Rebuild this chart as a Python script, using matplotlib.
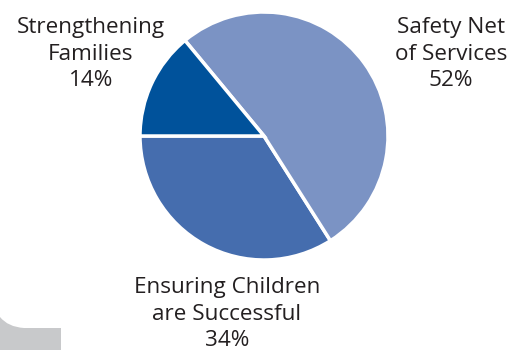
import matplotlib
matplotlib.use("Agg")
import matplotlib.pyplot as plt
from matplotlib.path import Path
from matplotlib.patches import PathPatch

labels = ["Ensuring Children\nare Successful\n34%", "Safety Net\nof Services\n52%", "Strengthening\nFamilies\n14%"]
values = [34, 52, 14]
colors = ["#456dae", "#7b93c4", "#00529b"]

fig = plt.figure(figsize=(5.15, 3.5), dpi=100)
bg = fig.add_axes([0, 0, 1, 1])
bg.set_xlim(0, 515)
bg.set_ylim(350, 0)
bg.axis("off")

verts = [(0, 350), (0, 317), (8, 327), (24, 328), (61, 328), (61, 350), (0, 350)]
codes = [Path.MOVETO, Path.LINETO, Path.CURVE3, Path.CURVE3, Path.LINETO, Path.LINETO, Path.CLOSEPOLY]
bg.add_patch(PathPatch(Path(verts, codes), facecolor="#c8c9cb", edgecolor="none"))

# pie axes: center (264,136), radius ~124 px
r = 124
cx, cy = 264, 136
ax = fig.add_axes([(cx - r) / 515, (350 - cy - r) / 350, 2 * r / 515, 2 * r / 350])
ax.pie(values, colors=colors, startangle=180, counterclock=True, radius=1,
       wedgeprops=dict(edgecolor="white", linewidth=2.5))
ax.set_xlim(-1, 1)
ax.set_ylim(-1, 1)
ax.set_aspect("auto")
ax.axis("off")

fkw = dict(fontsize=16.2, color="#231f20", ha="center", va="center",
           family="Open Sans", linespacing=1.32)
bg.text(91, 54, labels[2], **fkw)
bg.text(451, 54, labels[1], **fkw)
bg.text(227, 314, labels[0], **fkw)

fig.savefig("out.png", dpi=100)
